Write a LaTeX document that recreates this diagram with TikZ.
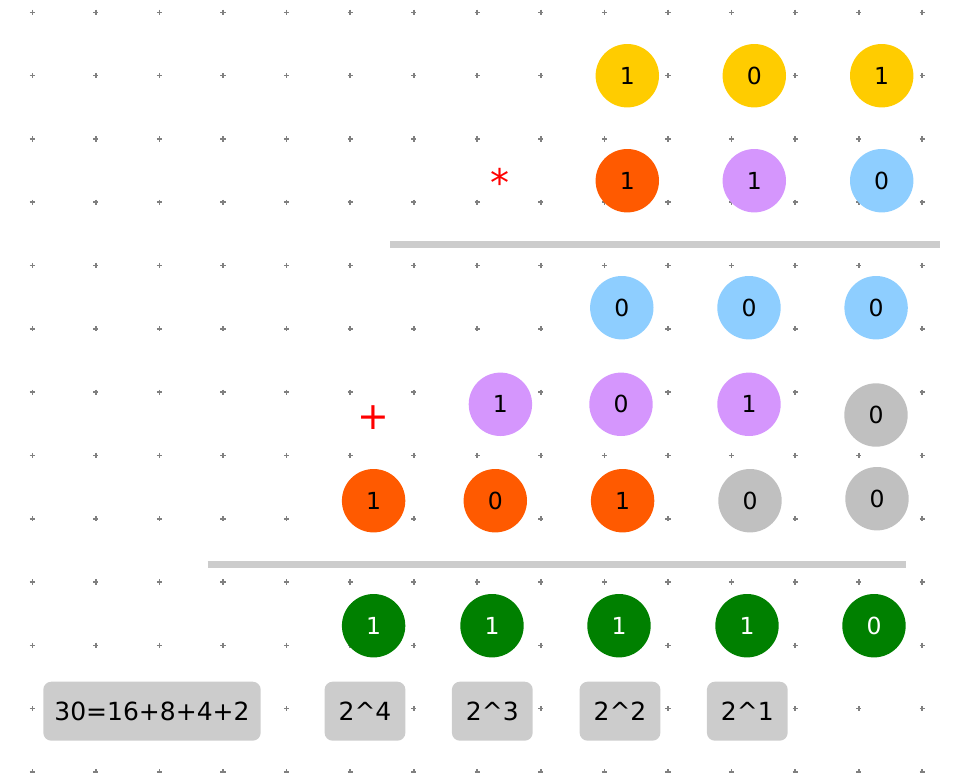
\documentclass[tikz,border=0pt]{standalone}
\usepackage{fontspec}
\setmainfont{DejaVu Sans}
\begin{document}
\begin{tikzpicture}[x=1pt,y=-1pt,
  bit/.style={circle,minimum size=63.4pt,inner sep=0pt,font=\fontsize{23.5}{28}\selectfont,text=black},
  yel/.style={bit,fill=cYel},
  ora/.style={bit,fill=cOra},
  pur/.style={bit,fill=cPur},
  blu/.style={bit,fill=cBlu},
  gry/.style={bit,fill=cGry},
  grn/.style={bit,fill=cGrn,text=white},
  lblbox/.style={rounded corners=8pt,fill=cBox,inner sep=0pt,minimum height=59pt,font=\fontsize{25}{30}\selectfont},
  rule/.style={draw=cBox,line width=6.5pt},
  dotmark/.style={draw=cDot,line width=1.6pt},
  redsym/.style={text=red,inner sep=0pt}]
\definecolor{cYel}{HTML}{FFCC00}
\definecolor{cOra}{HTML}{FF5A00}
\definecolor{cPur}{HTML}{D596FD}
\definecolor{cBlu}{HTML}{8ECEFF}
\definecolor{cGry}{HTML}{C0C0C0}
\definecolor{cGrn}{HTML}{008000}
\definecolor{cBox}{HTML}{CCCCCC}
\definecolor{cDot}{HTML}{808080}
\useasboundingbox (0,0) rectangle (962,772);
% grid dots
\foreach \i in {0,...,14}{
  \foreach \j in {0,...,12}{
    \pgfmathsetmacro{\gx}{32.3+63.57*\i}
    \pgfmathsetmacro{\gy}{12.3+63.3*\j}
    \draw[dotmark] (\gx-2.6,\gy) -- (\gx+2.6,\gy) (\gx,\gy-2.6) -- (\gx,\gy+2.6);
  }
}
% row 1
\node[yel] (a1) at (627.3,75.7) {1};
\node[yel] (a2) at (754.3,75.7) {0};
\node[yel] (a3) at (881.7,75.7) {1};
% row 2
\node[redsym,font=\fontsize{38}{38}\selectfont] (star) at (500.3,182) {*};
\node[ora] (b1) at (627.3,180.7) {1};
\node[pur] (b2) at (754.3,180.7) {1};
\node[blu] (b3) at (881.7,180.7) {0};
% rule 1
\coordinate (r1a) at (390,244.3);
\coordinate (r1b) at (940.3,244.3);
\draw[rule] (r1a) -- (r1b);
% row 3
\node[blu] (c1) at (621.8,307.7) {0};
\node[blu] (c2) at (749,307.7) {0};
\node[blu] (c3) at (876.1,307.7) {0};
% row 4
\node[redsym,font=\fontsize{38}{38}\selectfont] (plus) at (373.3,417.7) {+};
\node[pur] (d1) at (500.4,404.3) {1};
\node[pur] (d2) at (621,404.3) {0};
\node[pur] (d3) at (749,404.3) {1};
\node[gry] (d4) at (876,415) {0};
% row 5
\node[ora] (e1) at (373.6,500.7) {1};
\node[ora] (e2) at (495.3,500.7) {0};
\node[ora] (e3) at (622.6,500.7) {1};
\node[gry] (e4) at (750,500.7) {0};
\node[gry] (e5) at (877,498.7) {0};
% rule 2
\coordinate (r2a) at (207.5,564.3);
\coordinate (r2b) at (906,564.3);
\draw[rule] (r2a) -- (r2b);
% row 6
\node[grn] (f1) at (373.6,625.7) {1};
\node[grn] (f2) at (492,625.7) {1};
\node[grn] (f3) at (619,625.7) {1};
\node[grn] (f4) at (747,625.7) {1};
\node[grn] (f5) at (874,625.7) {0};
% labels
\node[lblbox,minimum width=217.4pt] (sum) at (152,711.2) {30=16+8+4+2};
\node[lblbox,minimum width=80.8pt] (p4) at (365,711.2) {2\textasciicircum 4};
\node[lblbox,minimum width=80.8pt] (p3) at (492.3,711.2) {2\textasciicircum 3};
\node[lblbox,minimum width=80.8pt] (p2) at (620,711.2) {2\textasciicircum 2};
\node[lblbox,minimum width=80.8pt] (p1) at (747.3,711.2) {2\textasciicircum 1};
\end{tikzpicture}
\end{document}
